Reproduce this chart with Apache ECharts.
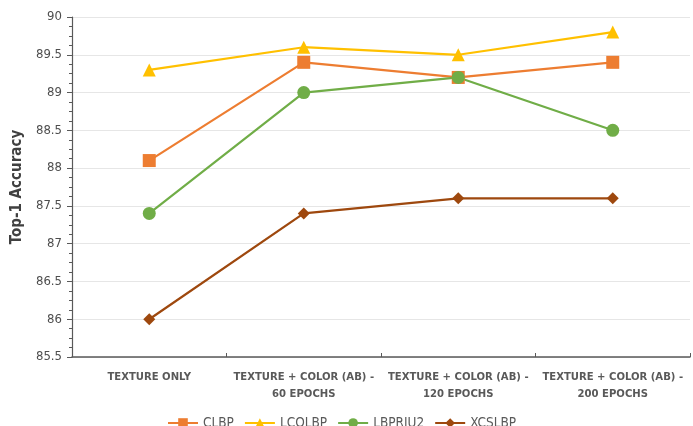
<!DOCTYPE html>
<html>
<head>
<meta charset="utf-8">
<script src="https://cdn.jsdelivr.net/npm/echarts@6/dist/echarts.min.js"></script>
<style>
  html, body { margin: 0; padding: 0; background: #fff; }
  #chart { width: 693px; height: 426px; }
</style>
</head>
<body>
<div id="chart"></div>
<script>
// data
var categories = ['TEXTURE ONLY', 'TEXTURE + COLOR (AB) -\n60 EPOCHS', 'TEXTURE + COLOR (AB) -\n120 EPOCHS', 'TEXTURE + COLOR (AB) -\n200 EPOCHS'];
var seriesNames = ['CLBP', 'LCOLBP', 'LBPRIU2', 'XCSLBP'];
var clbp = [88.1, 89.4, 89.2, 89.4];
var lcolbp = [89.3, 89.6, 89.5, 89.8];
var lbpriu2 = [87.4, 89.0, 89.2, 88.5];
var xcslbp = [86.0, 87.4, 87.6, 87.6];
var yMin = 85.5, yMax = 90, yStep = 0.5;

(function() {
    var myChart = echarts.init(document.getElementById('chart'));
    var narrow = '"Liberation Sans Narrow", "DejaVu Sans Condensed", sans-serif';
    function line(name, data, color, symbol, size) {
        return {
            name: name,
            type: 'line',
            data: data,
            symbol: symbol,
            symbolSize: size,
            lineStyle: { color: color, width: 2.2 },
            itemStyle: { color: color },
            z: 3
        };
    }
    var option = {
        animation: false,
        textStyle: { fontFamily: narrow },
        grid: { left: 72, right: 3, top: 17, bottom: 69 },
        legend: {
            bottom: -9,
            left: 162,
            itemWidth: 30,
            itemHeight: 12,
            itemGap: 10,
            textStyle: { color: '#595959', fontSize: 13.5, fontFamily: narrow },
            data: seriesNames
        },
        xAxis: {
            type: 'category',
            data: categories,
            boundaryGap: true,
            axisLine: { lineStyle: { color: '#595959', width: 1.5 } },
            axisTick: { show: true, length: 4, inside: true, lineStyle: { color: '#595959' } },
            axisLabel: { color: '#595959', fontSize: 11.2, fontWeight: 'bold', fontFamily: narrow, lineHeight: 17, margin: 12, interval: 0 },
            splitLine: { show: false }
        },
        yAxis: {
            type: 'value',
            min: yMin,
            max: yMax,
            interval: yStep,
            name: 'Top-1 Accuracy',
            nameLocation: 'middle',
            nameGap: 46,
            nameRotate: 90,
            nameTextStyle: { color: '#404040', fontSize: 15, fontWeight: 'bold', fontFamily: narrow },
            axisLine: { show: true, lineStyle: { color: '#595959', width: 1.2 } },
            axisTick: { show: true, length: 5, lineStyle: { color: '#595959' } },
            minorTick: { show: true, splitNumber: 4, length: 3, lineStyle: { color: '#595959' } },
            axisLabel: { color: '#4d4d4d', fontSize: 13, margin: 10, fontFamily: narrow },
            splitLine: { lineStyle: { color: '#e6e6e6', width: 1 } }
        },
        series: [
            line(seriesNames[0], clbp, '#ED7D31', 'rect', 13),
            line(seriesNames[1], lcolbp, '#FFC000', 'triangle', 13),
            line(seriesNames[2], lbpriu2, '#70AD47', 'circle', 13),
            line(seriesNames[3], xcslbp, '#9E480E', 'diamond', 12)
        ]
    };
    myChart.setOption(option);
    window.addEventListener('resize', function() {
        myChart.resize();
    });
})();
</script>
</body>
</html>
